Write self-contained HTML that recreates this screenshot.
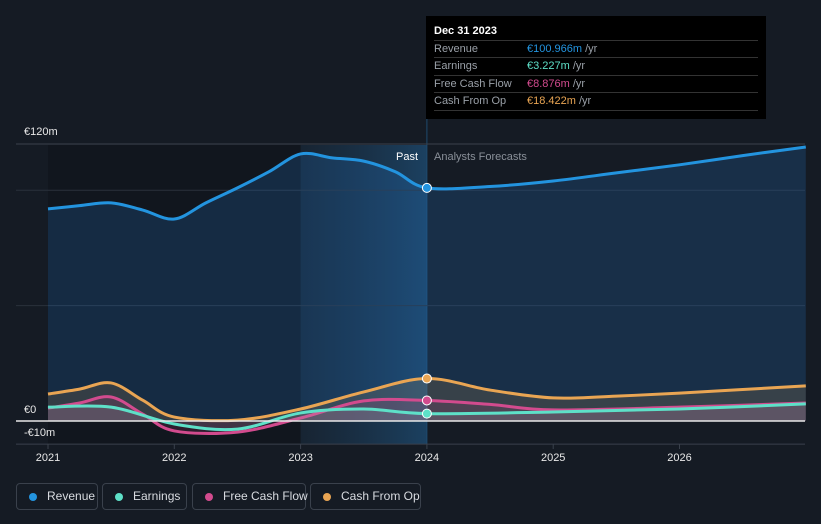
<!DOCTYPE html>
<html><head><meta charset="utf-8"><style>
body{margin:0;background:#151b24;font-family:"Liberation Sans",sans-serif;}
#wrap{position:relative;width:821px;height:524px;overflow:hidden;background:#151b24;}
.legend{position:absolute;top:483px;height:27px;border:1px solid #3a414c;border-radius:4px;color:#d8dbe0;font-size:12px;line-height:25px;padding:0 0 0 30px;box-sizing:border-box;white-space:nowrap;}
.legend i{position:absolute;left:12px;top:9px;width:8px;height:8px;border-radius:50%;}
.tip{position:absolute;left:426px;top:16px;width:340px;height:103px;background:#000;}
.tip .row{position:absolute;left:8px;width:324px;border-top:1px solid #333;font-size:11px;color:#9aa0a8;height:17px;line-height:17px;}
.tip .row span{position:absolute;left:93px;}
</style></head><body>
<div id="wrap">
<svg id="svg" width="821" height="524" style="position:absolute;left:0;top:0"></svg>
<div class="tip">
 <div style="position:absolute;left:8px;top:9px;color:#fff;font-size:11px;font-weight:bold">Dec 31 2023</div>
 <div class="row" style="top:24px">Revenue<span><b style="color:#2394df;font-weight:normal">€100.966m</b> /yr</span></div>
 <div class="row" style="top:41px">Earnings<span><b style="color:#5ee0c8;font-weight:normal">€3.227m</b> /yr</span></div>
 <div class="row" style="top:59px">Free Cash Flow<span><b style="color:#d24b8e;font-weight:normal">€8.876m</b> /yr</span></div>
 <div class="row" style="top:76px;border-bottom:1px solid #333">Cash From Op<span><b style="color:#e9a553;font-weight:normal">€18.422m</b> /yr</span></div>
</div>
<div class="legend" style="left:16px;width:82px"><i style="background:#2394df"></i>Revenue</div>
<div class="legend" style="left:102px;width:85px"><i style="background:#5ee0c8"></i>Earnings</div>
<div class="legend" style="left:192px;width:114px"><i style="background:#d24b8e"></i>Free Cash Flow</div>
<div class="legend" style="left:310px;width:111px"><i style="background:#e9a553"></i>Cash From Op</div>
</div>
<script>
const revX=[2021,2021.25,2021.5,2021.75,2022,2022.25,2022.5,2022.75,2023,2023.25,2023.5,2023.75,2024,2024.5,2025,2025.5,2026,2026.5,2027];
const revY=[91.9,93.3,94.5,91.4,87.5,94.5,101,108,115.7,114,112.6,108,101,101.6,104,107.5,111,115,118.7];
const cfoX=[2021,2021.25,2021.5,2021.75,2022,2022.5,2023,2023.5,2024,2024.5,2025,2025.5,2026,2027];
const cfoY=[11.7,13.8,16.5,9,1.7,0.4,5.2,12.6,18.4,13.4,10,10.8,12.1,15.2];
const fcfX=[2021,2021.25,2021.5,2021.75,2022,2022.5,2023,2023.5,2024,2024.5,2025,2026,2027];
const fcfY=[5.6,7.8,10.4,3,-4.3,-4.8,1.3,8.7,8.9,7.2,4.8,6,7.8];
const earX=[2021,2021.5,2022,2022.5,2023,2023.5,2024,2025,2026,2027];
const earY=[6,6,-1.3,-3.5,3.5,5.2,3.2,3.9,5.2,7.4];
const yTicks=[120,0,-10];
const xTicks=[2021,2022,2023,2024,2025,2026];
const NS="http://www.w3.org/2000/svg";
const sx=v=>48+(v-2021)*126.3;
const sy=v=>421-v*2.308;
const svg=document.getElementById('svg');
function el(t,a,p){const e=document.createElementNS(NS,t);for(const k in a)e.setAttribute(k,a[k]);(p||svg).appendChild(e);return e;}
const defs=el('defs',{});
defs.innerHTML='<linearGradient id="pastg" x1="0" x2="1"><stop offset="0" stop-color="#1c3a55" stop-opacity="0.3"/><stop offset="1" stop-color="#1d4a70" stop-opacity="0.8"/></linearGradient>';
const bg=el('rect',{x:sx(2021),y:145,width:sx(2023)-sx(2021),height:299,fill:'#11161e'});

const hb=el('rect',{x:sx(2023),y:145,width:sx(2024)-sx(2023),height:299,fill:'url(#pastg)'});

el('line',{x1:sx(2024),x2:sx(2024),y1:16,y2:444,stroke:'#1f4a6e','stroke-width':1});
[120,100,50].forEach(v=>{const g=el('line',{x1:16,x2:805,y1:sy(v),y2:sy(v),stroke:v==120?'#3a414c':'#2a313b'});});
el('line',{x1:16,x2:805,y1:sy(-10),y2:sy(-10),stroke:'#3a414c'});
function path(xs,ys){const p=xs.map((x,i)=>[sx(x),sy(ys[i])]);let d='M'+p[0][0]+','+p[0][1];
for(let i=0;i<p.length-1;i++){const p0=p[Math.max(i-1,0)],p1=p[i],p2=p[i+1],p3=p[Math.min(i+2,p.length-1)];
const c1=[p1[0]+(p2[0]-p0[0])/6,p1[1]+(p2[1]-p0[1])/6],c2=[p2[0]-(p3[0]-p1[0])/6,p2[1]-(p3[1]-p1[1])/6];
d+=`C${c1[0]},${c1[1]} ${c2[0]},${c2[1]} ${p2[0]},${p2[1]}`;}return d;}
const series=[['revenue',revX,revY,'#2394df','rgba(35,120,200,0.22)'],['cash-from-op',cfoX,cfoY,'#e9a553','rgba(233,165,83,0.15)'],['free-cash-flow',fcfX,fcfY,'#d24b8e','rgba(210,75,142,0.15)'],['earnings',earX,earY,'#5ee0c8','rgba(180,190,200,0.15)']];
series.forEach(([n,xs,ys,c,f])=>{
 const d=path(xs,ys);
 const a=el('path',{d:d+`L${sx(xs[xs.length-1])},${sy(0)}L${sx(xs[0])},${sy(0)}Z`,fill:f});
 
 const l=el('path',{d:d,fill:'none',stroke:c,'stroke-width':3});
 
 const i=xs.indexOf(2024);
 const m=el('circle',{cx:sx(2024),cy:sy(ys[i]),r:4.5,fill:c,stroke:'#fff','stroke-width':1});
 
});
el('line',{x1:16,x2:805,y1:sy(0),y2:sy(0),stroke:'#e8e8e8','stroke-width':1.5});
const ylab={120:[24,sy(120)-9],0:[24,sy(0)-8],'-10':[24,sy(-10)-8]};
yTicks.forEach(v=>{const t=el('text',{x:ylab[v][0],y:ylab[v][1],fill:'#e8e8e8','font-size':11});t.textContent=(v<0?'-€'+(-v):'€'+v)+(v?'m':'');});
xTicks.forEach(v=>{el('line',{x1:sx(v),x2:sx(v),y1:444,y2:449,stroke:'#3a414c'});const t=el('text',{x:sx(v),y:461,fill:'#e8e8e8','font-size':11,'text-anchor':'middle'});t.textContent=v;});
let t=el('text',{x:418,y:160,fill:'#fff','font-size':11,'text-anchor':'end'});t.textContent='Past';
t=el('text',{x:434,y:160,fill:'#8a9099','font-size':11});t.textContent='Analysts Forecasts';
</script>
</body></html>
